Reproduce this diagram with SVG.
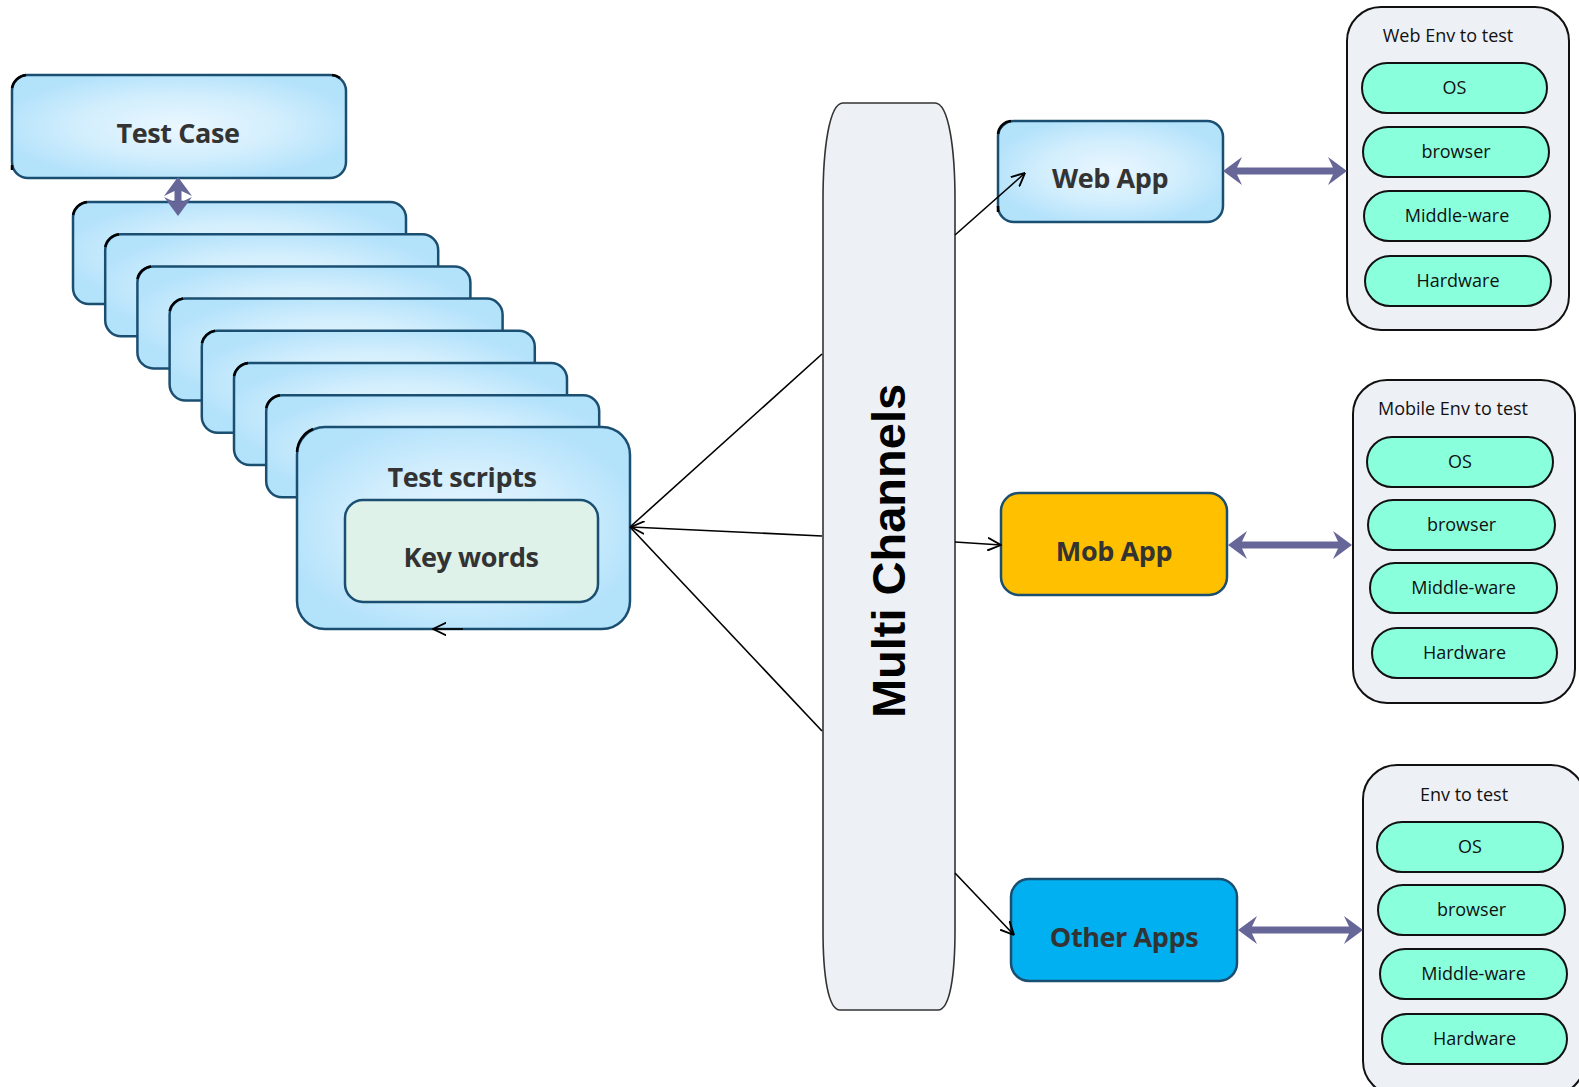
<svg xmlns="http://www.w3.org/2000/svg" width="1579" height="1087" viewBox="0 0 1579 1087">
<style>
.blue{fill:url(#bg);stroke:#1b4f72;stroke-width:2.5}
.lbl{font-family:"Open Sans","Liberation Sans",sans-serif;font-weight:bold;font-size:27px;letter-spacing:-0.4px;fill:#333;text-anchor:middle}
.env{fill:#edf0f5;stroke:#111;stroke-width:2}
.pill{fill:#8affdc;stroke:#111;stroke-width:2}
.ptxt{font-family:"Open Sans","Liberation Sans",sans-serif;font-size:18px;fill:#111;text-anchor:middle}
.conn{stroke:#000;stroke-width:1.6;fill:none}
.dbl{fill:#666699}
.corner{fill:none;stroke:#000;stroke-width:2.5}
</style>
<defs>
<radialGradient id="bg" cx="0.5" cy="0.5" r="0.55">
<stop offset="0" stop-color="#eaf7ff"/>
<stop offset="0.55" stop-color="#d2eefd"/>
<stop offset="1" stop-color="#b3e2fb"/>
</radialGradient>
<marker id="open" viewBox="0 0 12 12" refX="11.5" refY="6" markerWidth="14" markerHeight="14" markerUnits="userSpaceOnUse" orient="auto">
<path d="M0,0.5 L11.5,6 L0,11.5" fill="none" stroke="#000" stroke-width="1.6"/>
</marker>
</defs>
<rect width="1579" height="1087" fill="#fff"/>

<g id="test-case">
<rect class="blue" x="12" y="75" width="334" height="103" rx="16"/>
<path class="corner" d="M12,88 A16,16 0 0 1 26,75 M332,75 A14,14 0 0 1 340,78 M12,165 L12,170"/>
<text class="lbl" x="178" y="143">Test Case</text>
</g>

<g id="script-stack">
<rect class="blue" x="73" y="202" width="333" height="102" rx="16"/>
<rect class="blue" x="105.2" y="234.2" width="333" height="102" rx="16"/>
<rect class="blue" x="137.4" y="266.4" width="333" height="102" rx="16"/>
<rect class="blue" x="169.6" y="298.6" width="333" height="102" rx="16"/>
<rect class="blue" x="201.8" y="330.8" width="333" height="102" rx="16"/>
<rect class="blue" x="234" y="363" width="333" height="102" rx="16"/>
<rect class="blue" x="266.2" y="395.2" width="333" height="102" rx="16"/>
<path class="corner" d="M73,215 A16,16 0 0 1 87,202 M105.2,247 A16,16 0 0 1 119,234.2 M137.4,279 A16,16 0 0 1 151,266.4 M169.6,311 A16,16 0 0 1 183,298.6 M201.8,343 A16,16 0 0 1 215,330.8 M234,376 A16,16 0 0 1 248,363 M266.2,408 A16,16 0 0 1 280,395.2"/>
</g>

<g id="test-scripts">
<rect class="blue" x="297" y="427" width="333" height="202" rx="28"/>
<path class="corner" d="M297,452 A26,26 0 0 1 313,429"/>
<text class="lbl" x="462" y="487">Test scripts</text>
<g id="key-words">
<rect x="345" y="500" width="253" height="102" rx="18" fill="#dff2e9" stroke="#1b4f72" stroke-width="2.5"/>
<text class="lbl" x="471" y="567">Key words</text>
</g>
</g>

<g id="multi-channels">
<path d="M843,103 L935,103 C949,103 955,150 955,200 L955,930 C955,975 950,1010 938,1010 L840,1010 C828,1010 823,975 823,930 L823,200 C823,150 829,103 843,103 Z" fill="#edf0f5" stroke="#333" stroke-width="1.6"/>
<text transform="translate(905,551) rotate(-90)" font-family="'Liberation Sans',Arial,sans-serif" font-weight="bold" font-size="47" fill="#000" text-anchor="middle">Multi Channels</text>
</g>

<g id="web-app">
<rect class="blue" x="998" y="121" width="225" height="101" rx="16"/>
<path class="corner" d="M998,134 A14,14 0 0 1 1011,121 M998,206 L998,212"/>
<text class="lbl" x="1110" y="188">Web App</text>
</g>

<g id="mob-app">
<rect x="1001" y="493" width="226" height="102" rx="18" fill="#ffc000" stroke="#1b4f72" stroke-width="2.5"/>
<text class="lbl" x="1114" y="561">Mob App</text>
</g>

<g id="other-apps">
<rect x="1011" y="879" width="226" height="102" rx="18" fill="#00b0f0" stroke="#1b4f72" stroke-width="2.5"/>
<text class="lbl" x="1124" y="947">Other Apps</text>
</g>

<g id="web-env">
<rect class="env" x="1347" y="7" width="222" height="323" rx="34"/>
<text class="ptxt" x="1448" y="42">Web Env to test</text>
<rect class="pill" x="1362" y="63" width="185" height="50" rx="25"/>
<text class="ptxt" x="1454.5" y="94">OS</text>
<rect class="pill" x="1363" y="127" width="186" height="50" rx="25"/>
<text class="ptxt" x="1456" y="158">browser</text>
<rect class="pill" x="1364" y="191" width="186" height="50" rx="25"/>
<text class="ptxt" x="1457" y="222">Middle-ware</text>
<rect class="pill" x="1365" y="256" width="186" height="50" rx="25"/>
<text class="ptxt" x="1458" y="287">Hardware</text>
</g>

<g id="mobile-env">
<rect class="env" x="1353" y="380" width="222" height="323" rx="34"/>
<text class="ptxt" x="1453" y="415">Mobile Env to test</text>
<rect class="pill" x="1367" y="437" width="186" height="50" rx="25"/>
<text class="ptxt" x="1460" y="468">OS</text>
<rect class="pill" x="1368" y="500" width="187" height="50" rx="25"/>
<text class="ptxt" x="1461.5" y="531">browser</text>
<rect class="pill" x="1370" y="563" width="187" height="50" rx="25"/>
<text class="ptxt" x="1463.5" y="594">Middle-ware</text>
<rect class="pill" x="1372" y="628" width="185" height="50" rx="25"/>
<text class="ptxt" x="1464.5" y="659">Hardware</text>
</g>

<g id="other-env">
<rect class="env" x="1363" y="765" width="222" height="330" rx="34"/>
<text class="ptxt" x="1464" y="801">Env to test</text>
<rect class="pill" x="1377" y="822" width="186" height="50" rx="25"/>
<text class="ptxt" x="1470" y="853">OS</text>
<rect class="pill" x="1378" y="885" width="187" height="50" rx="25"/>
<text class="ptxt" x="1471.5" y="916">browser</text>
<rect class="pill" x="1380" y="949" width="187" height="50" rx="25"/>
<text class="ptxt" x="1473.5" y="980">Middle-ware</text>
<rect class="pill" x="1382" y="1014" width="185" height="50" rx="25"/>
<text class="ptxt" x="1474.5" y="1045">Hardware</text>
</g>

<g id="connectors">
<line class="conn" x1="822" y1="354" x2="630" y2="527"/>
<line class="conn" x1="822" y1="536" x2="631" y2="527" marker-end="url(#open)"/>
<line class="conn" x1="822" y1="731" x2="630" y2="527"/>
<line class="conn" x1="463" y1="629" x2="433" y2="629" marker-end="url(#open)"/>
<line class="conn" x1="955" y1="235" x2="1025" y2="173" marker-end="url(#open)"/>
<line class="conn" x1="955" y1="542" x2="1001" y2="545" marker-end="url(#open)"/>
<line class="conn" x1="955" y1="873" x2="1014" y2="935" marker-end="url(#open)"/>
<path class="dbl" d="M178,177 L192,196 L181.5,191 L181.5,202 L192,197 L178,216 L164,197 L174.5,202 L174.5,191 L164,196 Z"/>
<path class="dbl" d="M1223,171 L1242,157 L1237,167.5 L1333,167.5 L1328,157 L1347,171 L1328,185 L1333,174.5 L1237,174.5 L1242,185 Z"/>
<path class="dbl" d="M1228,545 L1247,531 L1242,541.5 L1338,541.5 L1333,531 L1352,545 L1333,559 L1338,548.5 L1242,548.5 L1247,559 Z"/>
<path class="dbl" d="M1238,930 L1257,916 L1252,926.5 L1349,926.5 L1344,916 L1363,930 L1344,944 L1349,933.5 L1252,933.5 L1257,944 Z"/>
</g>
</svg>
